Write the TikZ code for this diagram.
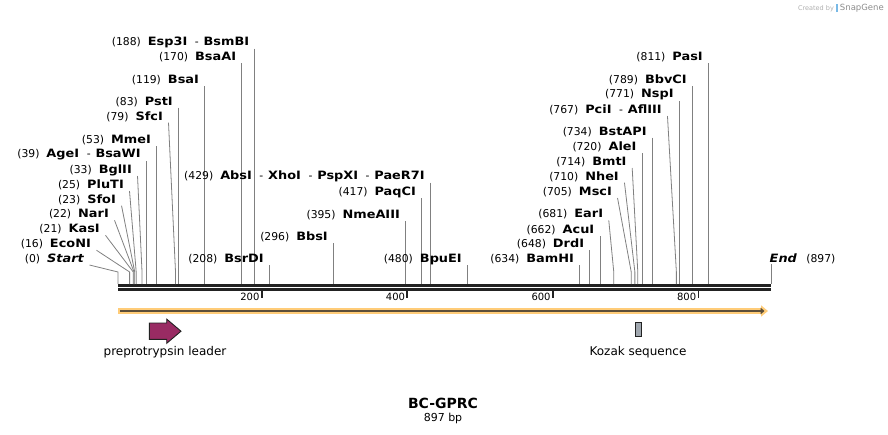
\documentclass[tikz,border=0pt]{standalone}
\usepackage{fontspec}
\setmainfont{DejaVu Sans}
\newfontfamily\enzfont{DejaVu Sans Bold}[FakeStretch=1.12]
\newfontfamily\enzitfont{DejaVu Sans Bold Oblique}[FakeStretch=1.12]
\usetikzlibrary{arrows.meta,positioning,calc}
\definecolor{cutgray}{RGB}{128,128,128}
\definecolor{axisblack}{RGB}{34,34,34}
\definecolor{bandorange}{RGB}{255,204,120}
\definecolor{banddark}{RGB}{92,78,56}
\definecolor{leaderred}{RGB}{153,43,99}
\definecolor{kozakgray}{RGB}{160,167,175}
\definecolor{creditgray}{RGB}{175,175,175}
\definecolor{snapblue}{RGB}{120,185,230}
\newcommand{\num}[1]{{\fontsize{10.8}{12}\selectfont(#1)}\hspace{0.7em}}
\newcommand{\enz}[1]{{\fontsize{11.5}{12}\selectfont\enzfont #1}}
\newcommand{\enzit}[1]{{\fontsize{11.5}{12}\selectfont\enzitfont #1}}
\newcommand{\alsocut}{{\fontsize{10.8}{12}\selectfont\hspace{0.7em}-\hspace{0.45em}}}

\begin{document}
\begin{tikzpicture}[x=1pt,y=-1pt,
  lab/.style={anchor=east, inner sep=0pt},
  cutline/.style={draw=cutgray, line width=0.8pt},
  axisline/.style={draw=axisblack, line width=2.6pt},
  tickmark/.style={draw=axisblack, line width=1.8pt},
  ticklab/.style={anchor=east, inner sep=0pt, font=\fontsize{10}{12}\selectfont},
  feat/.style={draw=axisblack, line width=0.9pt},
  featlab/.style={inner sep=0pt, font=\fontsize{12}{14}\selectfont}
]
\useasboundingbox (0,0) rectangle (888,434);

% sequence line
\draw[axisline] (118,285.3) -- (771,285.3);
\draw[axisline] (118,289.5) -- (771,289.5);

% cut sites: bp / label offset / label y / name / text
\foreach \p/\dx/\y/\nm/\txt in {
  0/-34/259/start/{\num{0}\enzit{Start}},
  16/-38.6/244.3/econi/{\num{16}\enz{EcoNI}},
  21/-33.3/229.3/kasi/{\num{21}\enz{KasI}},
  22/-25/214.3/nari/{\num{22}\enz{NarI}},
  23/-18.7/199.7/sfoi/{\num{23}\enz{SfoI}},
  25/-12.2/185/pluti/{\num{25}\enz{PluTI}},
  33/-10/170/bglii/{\num{33}\enz{BglII}},
  39/-5.5/155/agei/{\num{39}\enz{AgeI}\alsocut\enz{BsaWI}},
  53/-5.5/140/mmei/{\num{53}\enz{MmeI}},
  79/-12.5/116.7/sfci/{\num{79}\enz{SfcI}},
  83/-5.5/101.7/psti/{\num{83}\enz{PstI}},
  119/-5.5/80/bsai/{\num{119}\enz{BsaI}},
  170/-5.5/57.3/bsaai/{\num{170}\enz{BsaAI}},
  188/-5.5/42.5/esp3i/{\num{188}\enz{Esp3I}\alsocut\enz{BsmBI}},
  208/-5.5/259.3/bsrdi/{\num{208}\enz{BsrDI}},
  296/-5.5/237/bbsi/{\num{296}\enz{BbsI}},
  395/-5.5/215/nmeaiii/{\num{395}\enz{NmeAIII}},
  417/-5.5/192/paqci/{\num{417}\enz{PaqCI}},
  429/-5.5/176.7/absi/{\num{429}\enz{AbsI}\alsocut\enz{XhoI}\alsocut\enz{PspXI}\alsocut\enz{PaeR7I}},
  480/-5.5/259.3/bpuei/{\num{480}\enz{BpuEI}},
  634/-5.5/259.3/bamhi/{\num{634}\enz{BamHI}},
  648/-5.5/244.3/drdi/{\num{648}\enz{DrdI}},
  662/-5.5/230/acui/{\num{662}\enz{AcuI}},
  681/-10.5/214.3/eari/{\num{681}\enz{EarI}},
  705/-19.2/192/msci/{\num{705}\enz{MscI}},
  710/-15.9/176.7/nhei/{\num{710}\enz{NheI}},
  714/-11.1/162/bmti/{\num{714}\enz{BmtI}},
  720/-5.5/147/alei/{\num{720}\enz{AleI}},
  734/-5.5/131.7/bstapi/{\num{734}\enz{BstAPI}},
  767/-14.4/110/pcii/{\num{767}\enz{PciI}\alsocut\enz{AflIII}},
  771/-5.5/95/nspi/{\num{771}\enz{NspI}},
  789/-5.5/80/bbvci/{\num{789}\enz{BbvCI}},
  811/-5.5/57/pasi/{\num{811}\enz{PasI}}}{
  \node[lab] (\nm) at ({118+0.728*\p+\dx},\y) {\txt};
  \coordinate (\nm-k) at ({118+0.728*\p},272);
  \draw[cutline] ([shift={(5.5,6)}]\nm.east) -- (\nm-k) -- (\nm-k |- 0,284);
}

% end of sequence
\coordinate (end-k) at (771,272);
\node[lab, anchor=west] (endlab) at (769.5,259) {\enzit{End}\hspace{0.95em}{\fontsize{10.8}{12}\selectfont(897)}};
\draw[cutline] (end-k |- endlab.south) -- (end-k |- 0,284);

% ruler ticks
\foreach \t in {200,400,600,800}{
  \draw[tickmark] ({116+0.728*\t},291) -- ({116+0.728*\t},297.5);
  \node[ticklab] (t\t) at ({114+0.728*\t},297) {\t};
}

% open reading frame
\coordinate (orfl) at (118,311);
\coordinate (orfr) at (768,311);
\draw[draw=bandorange, line width=6.5pt, -{Triangle[length=7pt,width=11pt]}] (orfl) -- (orfr);
\draw[draw=banddark, line width=2.4pt, -{Triangle[length=4pt,width=6.5pt]}] ([xshift=2pt]orfl) -- ([xshift=-3.5pt]orfr);

% features
\coordinate (leader) at (149.3,323);
\draw[feat, fill=leaderred] (leader) -- ++(17.4,0) -- ++(0,-3.9) -- ++(14.3,12.1)
  -- ++(-14.3,12.1) -- ++(0,-3.9) -- ++(-17.4,0) -- cycle;
\node[feat, fill=kozakgray, minimum width=5.7pt, minimum height=14.7pt, inner sep=0pt] (kozak) at (638.2,329.4) {};
\node[featlab] (leaderlab) at (165,352) {preprotrypsin leader};
\node[featlab] (kozaklab) at (638,352) {Kozak sequence};

% title
\node[font=\fontsize{14}{16}\selectfont\bfseries] (title) at (443,403) {BC-GPRC};
\node[font=\fontsize{11}{13}\selectfont] (size) at (443,418) {897 bp};

\node[anchor=east, inner sep=0pt] (credit) at (884,8) {{\fontsize{6.5}{7}\selectfont\color{creditgray}Created by}\hspace{2pt}{\color{snapblue}\rule[-1.5pt]{2.6pt}{8.5pt}}\hspace{1.5pt}{\fontsize{8.5}{9}\selectfont\color{creditgray!80!black}SnapGene}};
\end{tikzpicture}
\end{document}
